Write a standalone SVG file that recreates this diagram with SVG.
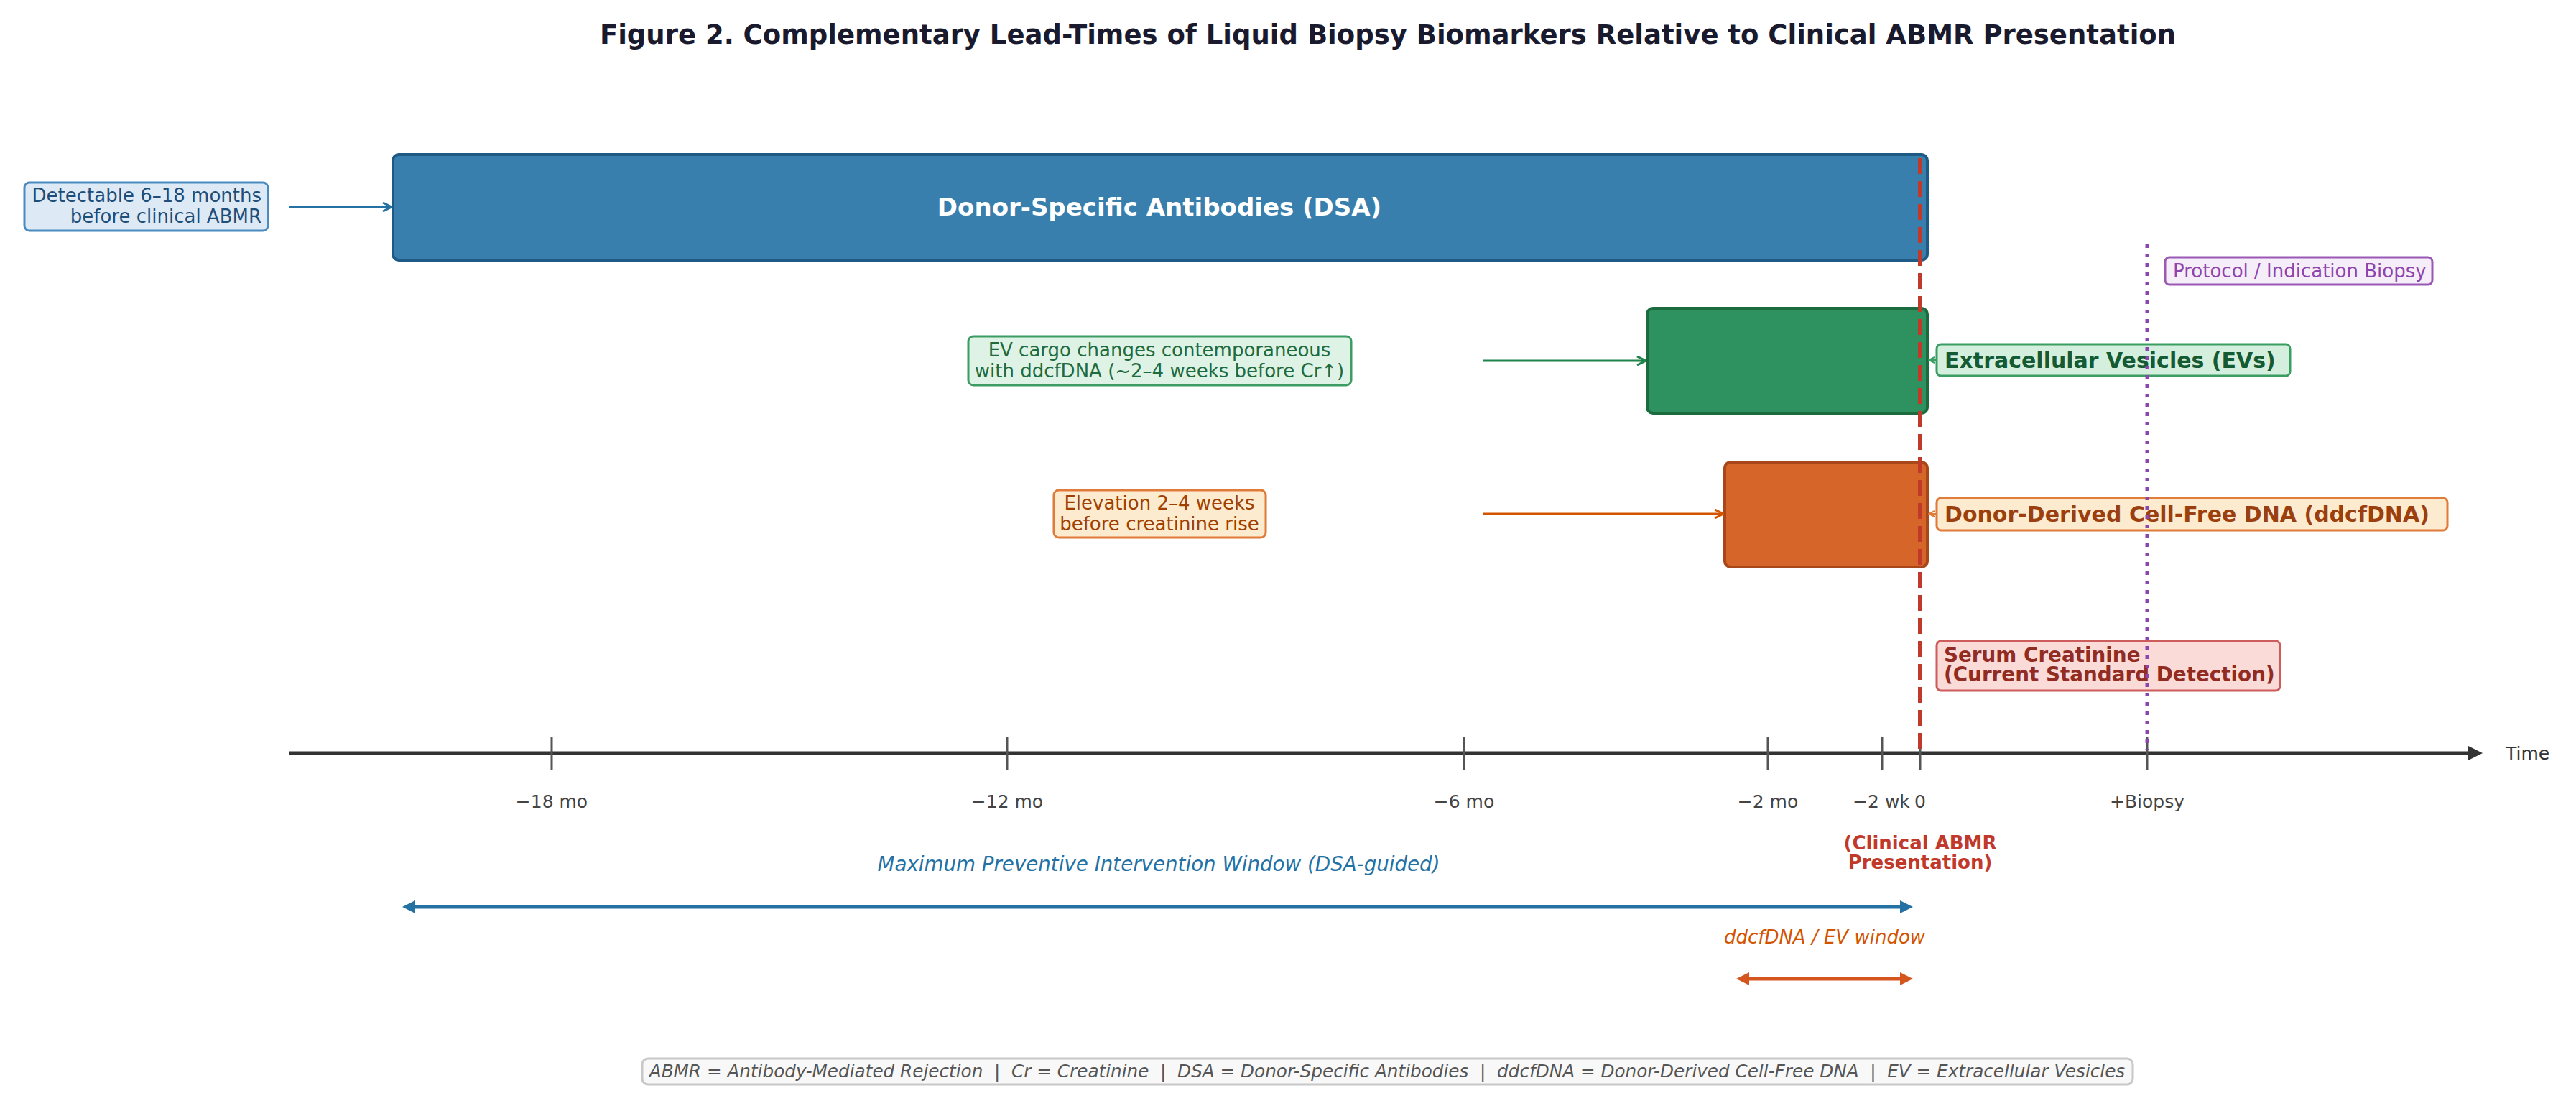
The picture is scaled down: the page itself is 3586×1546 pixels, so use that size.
<svg xmlns="http://www.w3.org/2000/svg" width="3586" height="1546" viewBox="0 0 3586 1546">
<style>
text{font-family:"DejaVu Sans","Liberation Sans",sans-serif}
.title{font-size:37px;font-weight:bold;fill:#1a1a2e}
.ann{font-size:26px}
.lbl{font-size:30px;font-weight:bold}
.tick{stroke:#555;stroke-width:3}
.tl{font-size:25px;fill:#444;text-anchor:middle}
.bar{stroke-width:4}
</style>
<defs>
<marker id="open-b" viewBox="0 0 14 14" refX="13" refY="7" markerWidth="14" markerHeight="14" markerUnits="userSpaceOnUse" orient="auto"><path d="M1,1 L13,7 L1,13" fill="none" stroke="#2471a3" stroke-width="3"/></marker>
<marker id="open-g" viewBox="0 0 14 14" refX="13" refY="7" markerWidth="14" markerHeight="14" markerUnits="userSpaceOnUse" orient="auto"><path d="M1,1 L13,7 L1,13" fill="none" stroke="#1e8449" stroke-width="3"/></marker>
<marker id="open-o" viewBox="0 0 14 14" refX="13" refY="7" markerWidth="14" markerHeight="14" markerUnits="userSpaceOnUse" orient="auto"><path d="M1,1 L13,7 L1,13" fill="none" stroke="#d35400" stroke-width="3"/></marker>
<marker id="small-g" viewBox="0 0 10 10" refX="9" refY="5" markerWidth="10" markerHeight="10" markerUnits="userSpaceOnUse" orient="auto"><path d="M1,1 L9,5 L1,9" fill="none" stroke="#3a9e62" stroke-width="2"/></marker>
<marker id="small-o" viewBox="0 0 10 10" refX="9" refY="5" markerWidth="10" markerHeight="10" markerUnits="userSpaceOnUse" orient="auto"><path d="M1,1 L9,5 L1,9" fill="none" stroke="#e07b39" stroke-width="2"/></marker>
<marker id="tri-b" viewBox="0 0 18 18" refX="0" refY="9" markerWidth="18" markerHeight="18" markerUnits="userSpaceOnUse" orient="auto-start-reverse"><path d="M0,0 L18,9 L0,18 z" fill="#2471a3"/></marker>
<marker id="tri-o" viewBox="0 0 18 18" refX="0" refY="9" markerWidth="18" markerHeight="18" markerUnits="userSpaceOnUse" orient="auto-start-reverse"><path d="M0,0 L18,9 L0,18 z" fill="#d4561e"/></marker>
<marker id="tri-k" viewBox="0 0 20 20" refX="0" refY="10" markerWidth="20" markerHeight="20" markerUnits="userSpaceOnUse" orient="auto"><path d="M0,0 L20,10 L0,20 z" fill="#333"/></marker>
</defs>
<rect width="3586" height="1546" fill="#fff"/>

<text class="title" x="1932" y="61" text-anchor="middle">Figure 2. Complementary Lead-Times of Liquid Biopsy Biomarkers Relative to Clinical ABMR Presentation</text>

<!-- bars -->
<g id="dsa-bar">
<rect class="bar" x="547" y="215" width="2136" height="147" rx="8" fill="#387fad" stroke="#1f5a85"/>
<text x="1614" y="300" text-anchor="middle" font-size="34" font-weight="bold" fill="#fff">Donor-Specific Antibodies (DSA)</text>
</g>
<g id="ev-bar">
<rect class="bar" x="2293" y="429" width="390" height="146" rx="8" fill="#2e9260" stroke="#1b6b3f"/>
</g>
<g id="ddcfdna-bar">
<rect class="bar" x="2401" y="643" width="282" height="146" rx="8" fill="#d66529" stroke="#a8481a"/>
</g>

<!-- annotations -->
<g id="dsa-note">
<rect x="34" y="254" width="339" height="67" rx="7" fill="#ddeaf6" stroke="#4a8cc0" stroke-width="3"/>
<text class="ann" x="364" y="281" text-anchor="end" fill="#1f4e79">Detectable 6–18 months</text>
<text class="ann" x="364" y="310" text-anchor="end" fill="#1f4e79">before clinical ABMR</text>
</g>
<g id="ev-note">
<rect x="1348" y="468" width="533" height="68" rx="7" fill="#dff2e6" stroke="#3d9c63" stroke-width="3"/>
<text class="ann" x="1614" y="496" text-anchor="middle" fill="#1e6b3e">EV cargo changes contemporaneous</text>
<text class="ann" x="1614" y="525" text-anchor="middle" fill="#1e6b3e">with ddcfDNA (~2–4 weeks before Cr↑)</text>
</g>
<g id="ddcfdna-note">
<rect x="1467" y="682" width="295" height="66" rx="7" fill="#fdebd0" stroke="#e07b39" stroke-width="3"/>
<text class="ann" x="1614" y="709" text-anchor="middle" fill="#a04000">Elevation 2–4 weeks</text>
<text class="ann" x="1614" y="738" text-anchor="middle" fill="#a04000">before creatinine rise</text>
</g>

<!-- labels -->
<g id="ev-label">
<rect x="2696" y="479" width="492" height="44" rx="6" fill="#d5efdf" stroke="#3a9e62" stroke-width="3"/>
<text class="lbl" x="2707" y="512" fill="#145a32">Extracellular Vesicles (EVs)</text>
</g>
<g id="ddcfdna-label">
<rect x="2696" y="693" width="711" height="45" rx="6" fill="#fdebd0" stroke="#e07b39" stroke-width="3"/>
<text class="lbl" x="2707" y="726" fill="#9c3f0e">Donor-Derived Cell-Free DNA (ddcfDNA)</text>
</g>
<g id="creatinine-label">
<rect x="2696" y="892" width="478" height="69" rx="6" fill="#fadbd8" stroke="#cd5c5c" stroke-width="3"/>
<text x="2706" y="921" font-size="27.8" font-weight="bold" fill="#922b21">Serum Creatinine</text>
<text x="2706" y="948" font-size="27.8" font-weight="bold" fill="#922b21">(Current Standard Detection)</text>
</g>
<g id="biopsy-label">
<rect x="3014" y="358" width="372" height="38" rx="6" fill="#f5eef8" stroke="#9b59b6" stroke-width="3"/>
<text class="ann" x="3025" y="386" fill="#8e44ad">Protocol / Indication Biopsy</text>
</g>

<!-- axis -->
<g id="time-axis">
<line x1="402" y1="1048" x2="3436" y2="1048" stroke="#333" stroke-width="5" marker-end="url(#tri-k)"/>
<line class="tick" x1="768" y1="1026" x2="768" y2="1071"/>
<line class="tick" x1="1402" y1="1026" x2="1402" y2="1071"/>
<line class="tick" x1="2038" y1="1026" x2="2038" y2="1071"/>
<line class="tick" x1="2461" y1="1026" x2="2461" y2="1071"/>
<line class="tick" x1="2620" y1="1026" x2="2620" y2="1071"/>
<line class="tick" x1="2673" y1="1026" x2="2673" y2="1071"/>
<line class="tick" x1="2989" y1="1026" x2="2989" y2="1071"/>
<text class="tl" x="768" y="1124">−18 mo</text>
<text class="tl" x="1402" y="1124">−12 mo</text>
<text class="tl" x="2038" y="1124">−6 mo</text>
<text class="tl" x="2461" y="1124">−2 mo</text>
<text class="tl" x="2619" y="1124">−2 wk</text>
<text class="tl" x="2673" y="1124">0</text>
<text class="tl" x="2989" y="1124">+Biopsy</text>
<text x="3488" y="1057" font-size="25" fill="#333">Time</text>
</g>

<g id="clinical-label">
<text x="2673" y="1182" text-anchor="middle" font-size="26" font-weight="bold" fill="#c0392b">(Clinical ABMR</text>
<text x="2673" y="1209" text-anchor="middle" font-size="26" font-weight="bold" fill="#c0392b">Presentation)</text>
</g>

<!-- windows -->
<g id="dsa-window">
<text x="1613" y="1212" text-anchor="middle" font-size="27.7" font-style="italic" fill="#2471a3">Maximum Preventive Intervention Window (DSA-guided)</text>
</g>
<g id="ddcfdna-window">
<text x="2540" y="1313" text-anchor="middle" font-size="26" font-style="italic" fill="#d35400">ddcfDNA / EV window</text>
</g>

<!-- connectors -->
<g id="connectors">
<line x1="402" y1="288" x2="545" y2="288" stroke="#2471a3" stroke-width="3" marker-end="url(#open-b)"/>
<line x1="2065" y1="502" x2="2291" y2="502" stroke="#1e8449" stroke-width="3" marker-end="url(#open-g)"/>
<line x1="2065" y1="715" x2="2399" y2="715" stroke="#d35400" stroke-width="3" marker-end="url(#open-o)"/>
<line x1="2696" y1="501" x2="2685" y2="501" stroke="#3a9e62" stroke-width="2" marker-end="url(#small-g)"/>
<line x1="2696" y1="715" x2="2685" y2="715" stroke="#e07b39" stroke-width="2" marker-end="url(#small-o)"/>
<line x1="578" y1="1262" x2="2645" y2="1262" stroke="#2471a3" stroke-width="5" marker-start="url(#tri-b)" marker-end="url(#tri-b)"/>
<line x1="2435" y1="1362" x2="2645" y2="1362" stroke="#d4561e" stroke-width="5" marker-start="url(#tri-o)" marker-end="url(#tri-o)"/>
<line x1="2673" y1="220" x2="2673" y2="1044" stroke="#c0392b" stroke-width="6" stroke-dasharray="22 10"/>
<line x1="2989" y1="340" x2="2989" y2="1044" stroke="#8e44ad" stroke-width="5" stroke-dasharray="5 8"/>
</g>

<g id="legend">
<rect x="894" y="1473" width="2075" height="36" rx="8" fill="#f8f8f8" stroke="#c8c8c8" stroke-width="3"/>
<text x="1931" y="1499" text-anchor="middle" font-size="24.7" font-style="italic" fill="#555" xml:space="preserve">ABMR = Antibody-Mediated Rejection  |  Cr = Creatinine  |  DSA = Donor-Specific Antibodies  |  ddcfDNA = Donor-Derived Cell-Free DNA  |  EV = Extracellular Vesicles</text>
</g>
</svg>
